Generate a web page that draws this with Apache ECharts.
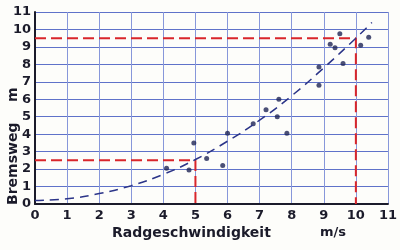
<!DOCTYPE html>
<html>
<head>
<meta charset="utf-8">
<script src="https://cdn.jsdelivr.net/npm/echarts@6/dist/echarts.min.js"></script>
<style>
  html, body { margin: 0; padding: 0; background: #fdfdfa; }
  #chart { width: 400px; height: 250px; }
</style>
</head>
<body>
<div id="chart"></div>
<script>
// Messpunkte (Radgeschwindigkeit m/s, Bremsweg m)
var messX = [4.1, 4.8, 4.95, 5.35, 5.85, 6.0, 6.8, 7.2, 7.55, 7.6, 7.85, 8.85, 8.85, 9.2, 9.35, 9.5, 9.6, 10.15, 10.4];
var messY = [2.05, 1.95, 3.5, 2.6, 2.2, 4.05, 4.6, 5.4, 5.0, 6.0, 4.05, 7.85, 6.8, 9.15, 8.95, 9.75, 8.05, 9.1, 9.55];

// Ausgleichskurve (gestrichelt)
var kurveX = [0, 1, 2, 3, 4, 5, 6, 7, 8, 9, 10, 10.5];
var kurveY = [0.2, 0.3, 0.6, 1.05, 1.7, 2.55, 3.6, 4.8, 6.2, 7.8, 9.5, 10.4];

// rote Hilfslinien
var hilfOben = [[0, 9.5], [10, 9.5], [10, 0]];
var hilfUnten = [[0, 2.5], [5, 2.5], [5, 0]];

var ticks = ['0', '1', '2', '3', '4', '5', '6', '7', '8', '9', '10', '11'];

var punkte = messX.map(function (x, i) { return [x, messY[i]]; });
var kurve = kurveX.map(function (x, i) { return [x, kurveY[i]]; });

var schrift = 'DejaVu Sans';
var tinte = '#1b1b2a';
var blau = '#8797da';

var chart = echarts.init(document.getElementById('chart'));
chart.setOption({
  backgroundColor: '#fdfdfa',
  animation: false,
  grid: { left: 35, right: 10, top: 12, bottom: 46 },
  xAxis: {
    type: 'value', min: 0, max: 11, interval: 1,
    axisLine: { lineStyle: { color: tinte, width: 2 } },
    axisTick: { show: false },
    axisLabel: {
      color: tinte, fontFamily: schrift, fontWeight: 'bold', fontSize: 13, margin: 5,
      formatter: function (v) { return ticks[v]; }
    },
    splitLine: { lineStyle: { color: blau, width: 1 } }
  },
  yAxis: {
    type: 'value', min: 0, max: 11, interval: 1,
    axisLine: { lineStyle: { color: tinte, width: 2 } },
    axisTick: { show: false },
    axisLabel: {
      color: tinte, fontFamily: schrift, fontWeight: 'bold', fontSize: 13, margin: 4,
      formatter: function (v) { return ticks[v]; }
    },
    splitLine: { lineStyle: { color: '#5f72c9', width: 1 } }
  },
  graphic: [
    { type: 'text', left: 112, top: 226, style: { text: 'Radgeschwindigkeit', fill: tinte, font: 'bold 14px ' + schrift } },
    { type: 'text', left: 320, top: 226, style: { text: 'm/s', fill: tinte, font: 'bold 13px ' + schrift } },
    { type: 'text', x: 6, y: 205, rotation: Math.PI / 2, style: { text: 'Bremsweg', fill: tinte, font: 'bold 14px ' + schrift } },
    { type: 'text', x: 6, y: 102, rotation: Math.PI / 2, style: { text: 'm', fill: tinte, font: 'bold 14px ' + schrift } }
  ],
  series: [
    {
      type: 'line', data: hilfOben, symbol: 'none',
      lineStyle: { color: '#d9262b', width: 2, type: [11, 5] }
    },
    {
      type: 'line', data: hilfUnten, symbol: 'none',
      lineStyle: { color: '#d9262b', width: 2, type: [11, 5] }
    },
    {
      type: 'line', data: kurve, smooth: true, symbol: 'none',
      lineStyle: { color: '#2b3488', width: 1.5, type: [9, 6] }
    },
    {
      type: 'scatter', data: punkte, symbolSize: 5,
      itemStyle: { color: '#1e2455' }
    }
  ]
});
</script>
</body>
</html>
